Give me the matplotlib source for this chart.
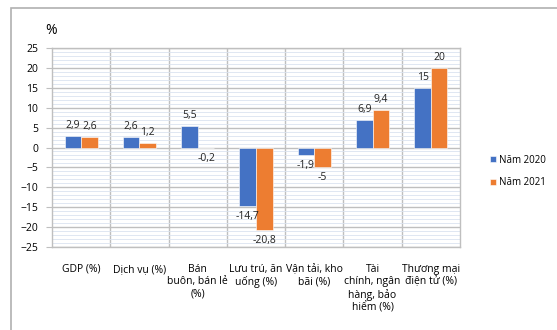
import numpy as np
import matplotlib.pyplot as plt
from matplotlib.patches import Rectangle

plt.rcParams['font.family'] = ['Open Sans', 'DejaVu Sans']

categories = ["GDP (%)", "Dịch vụ (%)", "Bán\nbuôn, bán lẻ\n(%)", "Lưu trú, ăn\nuống (%)",
              "Vận tải, kho\nbãi (%)", "Tài\nchính, ngân\nhàng, bảo\nhiểm (%)", "Thương mại\nđiện tử (%)"]
nam_2020 = [2.9, 2.6, 5.5, -14.7, -1.9, 6.9, 15]
nam_2021 = [2.6, 1.2, -0.2, -20.8, -5, 9.4, 20]
yticks = [25, 20, 15, 10, 5, 0, -5, -10, -15, -20, -25]

blue = "#4472C4"
orange = "#ED7D31"

fig = plt.figure(figsize=(5.57, 3.30), dpi=100)
# khung ngoai (chi thay canh tren va canh trai)
fig.patches.append(Rectangle((11/557, -0.1), 1.1, 1.1 - 8/330, transform=fig.transFigure,
                             fill=False, edgecolor="#b0b0b0", linewidth=1.2))

ax = fig.add_axes([52/557, 1 - 247/330, (460-52)/557, (247-48)/330])
x = np.arange(len(categories))
w = 0.285
b1 = ax.bar(x - w/2, nam_2020, w, color=blue, edgecolor="white", linewidth=0.4, label="Năm 2020", zorder=3)
b2 = ax.bar(x + w/2, nam_2021, w, color=orange, edgecolor="white", linewidth=0.4, label="Năm 2021", zorder=3)

def fmt(v):
    s = ("%g" % v).replace(".", ",")
    return s

for bars, vals in ((b1, nam_2020), (b2, nam_2021)):
    for r, v in zip(bars, vals):
        cx = r.get_x() + r.get_width()/2
        if v >= 0:
            ax.annotate(fmt(v), (cx, v), xytext=(0, 3.5), textcoords="offset points",
                        ha="center", va="bottom", fontsize=7.5, color="#222222")
        else:
            ax.annotate(fmt(v), (cx, v), xytext=(0, -3.5), textcoords="offset points",
                        ha="center", va="top", fontsize=7.5, color="#222222")

ax.set_xlim(-0.5, len(categories) - 0.5)
ax.set_ylim(-25, 25)
ax.set_yticks(yticks)
ax.set_yticks(np.arange(-25, 26, 1), minor=True)
ax.grid(axis="y", which="minor", color="#dbe3f0", linewidth=0.6, zorder=0)
ax.grid(axis="y", which="major", color="#bfbfbf", linewidth=1.0, zorder=1)
for xv in np.arange(0.5, len(categories) - 0.5, 1):
    ax.axvline(xv, color="#bfbfbf", linewidth=1.0, zorder=1)
ax.set_xticks(x)
ax.set_xticklabels(categories, fontsize=7.5, va="top", linespacing=1.2)
ax.tick_params(axis="x", length=0, pad=12)
ax.tick_params(axis="y", which="both", length=0, labelsize=7.5, pad=6)
ax.tick_params(axis="y", which="major", length=4, color="#bfbfbf")
for s in ax.spines.values():
    s.set_color("#bfbfbf")
    s.set_linewidth(1.0)

fig.text(51/557, 1 - 31/330, "%", fontsize=10, ha="center", va="center")

ax.legend(loc="center left", bbox_to_anchor=((490-52)/408, (247-171.5)/199), frameon=False, fontsize=7,
          handlelength=0.6, handleheight=0.6, handletextpad=0.35, labelspacing=1.2,
          borderpad=0, borderaxespad=0)

plt.savefig("out.png", dpi=100)
